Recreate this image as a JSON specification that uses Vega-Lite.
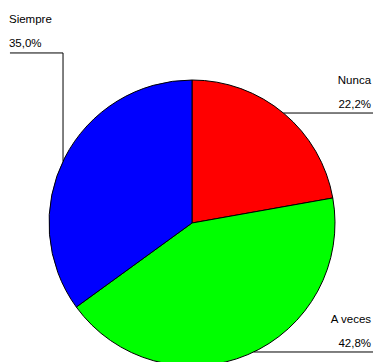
{
  "$schema": "https://vega.github.io/schema/vega-lite/v6.json",
  "width": 384,
  "height": 446,
  "autosize": "none",
  "padding": 0,
  "background": "white",
  "config": {
    "view": {"stroke": null},
    "locale": {"number": {"decimal": ",", "thousands": ".", "grouping": [3], "currency": ["", " €"]}},
    "text": {"font": "Liberation Sans", "fontSize": 11.5, "color": "black"}
  },
  "datasets": {
    "slices": [
      {"answer": "Nunca", "share": 0.222},
      {"answer": "A veces", "share": 0.428},
      {"answer": "Siempre", "share": 0.35}
    ],
    "leaders": [
      {"answer": "Siempre", "x": -1.273, "x2": -0.902, "y": 1.189, "y2": 1.189},
      {"answer": "Siempre", "x": -0.902, "x2": -0.902, "y": 1.189, "y2": 0.431},
      {"answer": "Nunca", "x": 0.639, "x2": 1.266, "y": 0.769, "y2": 0.769},
      {"answer": "A veces", "x": 0.431, "x2": 1.266, "y": -0.902, "y2": -0.902}
    ],
    "labels": [
      {"answer": "Siempre", "ax": -1.273, "ay": 1.189, "share": 0.35},
      {"answer": "Nunca", "ax": 1.266, "ay": 0.769, "share": 0.222},
      {"answer": "A veces", "ax": 1.266, "ay": -0.902, "share": 0.428}
    ]
  },
  "layer": [
    {
      "data": {"name": "slices"},
      "transform": [{"window": [{"op": "row_number", "as": "idx"}]}],
      "mark": {"type": "arc", "radius": 143, "stroke": "black", "strokeWidth": 1},
      "encoding": {
        "theta": {"field": "share", "type": "quantitative", "stack": true},
        "order": {"field": "idx", "type": "quantitative", "sort": "ascending"},
        "color": {
          "field": "answer",
          "type": "nominal",
          "scale": {"domain": ["Nunca", "A veces", "Siempre"], "range": ["#FF0000", "#00FF00", "#0000FF"]},
          "legend": null
        }
      }
    },
    {
      "data": {"name": "leaders"},
      "mark": {"type": "rule", "color": "black", "strokeWidth": 1},
      "encoding": {
        "x": {"field": "x", "type": "quantitative", "scale": {"domain": [-1.3427, 1.3427], "nice": false, "zero": false}, "axis": null},
        "x2": {"field": "x2"},
        "y": {"field": "y", "type": "quantitative", "scale": {"domain": [-1.5594, 1.5594], "nice": false, "zero": false}, "axis": null},
        "y2": {"field": "y2"}
      }
    },
    {
      "data": {"name": "labels"},
      "transform": [{"filter": "datum.answer == 'Siempre'"}],
      "layer": [
        {
          "mark": {"type": "text", "align": "left", "baseline": "alphabetic", "dx": -1, "dy": -30},
          "encoding": {
            "x": {"field": "ax", "type": "quantitative"},
            "y": {"field": "ay", "type": "quantitative"},
            "text": {"field": "answer"}
          }
        },
        {
          "mark": {"type": "text", "align": "left", "baseline": "alphabetic", "dx": -1, "dy": -5.5},
          "encoding": {
            "x": {"field": "ax", "type": "quantitative"},
            "y": {"field": "ay", "type": "quantitative"},
            "text": {"field": "share", "type": "quantitative", "format": ".1%"}
          }
        }
      ]
    },
    {
      "data": {"name": "labels"},
      "transform": [{"filter": "datum.answer != 'Siempre'"}],
      "layer": [
        {
          "mark": {"type": "text", "align": "right", "baseline": "alphabetic", "dx": -2, "dy": -29},
          "encoding": {
            "x": {"field": "ax", "type": "quantitative"},
            "y": {"field": "ay", "type": "quantitative"},
            "text": {"field": "answer"}
          }
        },
        {
          "mark": {"type": "text", "align": "right", "baseline": "alphabetic", "dx": -2, "dy": -5},
          "encoding": {
            "x": {"field": "ax", "type": "quantitative"},
            "y": {"field": "ay", "type": "quantitative"},
            "text": {"field": "share", "type": "quantitative", "format": ".1%"}
          }
        }
      ]
    }
  ]
}
